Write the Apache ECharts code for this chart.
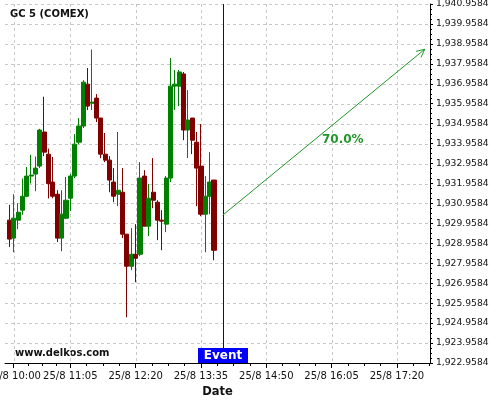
<!DOCTYPE html>
<html><head><meta charset="utf-8">
<script src="https://cdn.jsdelivr.net/npm/echarts@6/dist/echarts.min.js"></script>
<style>html,body{margin:0;padding:0;background:#fff}#c{width:500px;height:400px}</style>
</head><body><div id="c"></div>
<script>
// ---- data ----
const times = ["09:55","10:00","10:05","10:10","10:15","10:20","10:25","10:30","10:35","10:40","10:45","10:50","10:55",
"11:00","11:05","11:10","11:15","11:20","11:25","11:30","11:35","11:40","11:45","11:50","11:55",
"12:00","12:05","12:10","12:15","12:20","12:25","12:30","12:35","12:40","12:45","12:50","12:55",
"13:00","13:05","13:10","13:15","13:20","13:25","13:30","13:35","13:40","13:45","13:50"];
const opens = [1930.12,1929.22,1930.12,1930.62,1931.32,1932.33,1932.43,1932.83,1934.54,1933.43,1932.03,1931.42,1929.22,1930.22,1931.22,1932.33,1934.03,1934.84,1936.94,1935.98,1936.24,1935.24,1933.43,1933.13,1932.03,1931.42,1931.52,1929.42,1927.81,1928.41,1928.41,1932.33,1929.82,1931.52,1931.02,1930.12,1929.92,1932.23,1936.84,1936.84,1937.45,1934.64,1935.24,1934.03,1932.83,1930.42,1931.32,1932.13];
const closes = [1929.17,1930.22,1930.52,1931.32,1932.33,1932.38,1932.73,1934.64,1933.53,1931.96,1931.32,1929.22,1930.42,1931.12,1932.33,1933.93,1934.84,1937.04,1935.84,1936.04,1935.24,1933.43,1933.13,1932.13,1931.32,1931.62,1929.42,1927.81,1928.41,1928.21,1932.23,1929.82,1931.22,1931.12,1930.12,1930.07,1932.23,1936.84,1936.94,1937.55,1934.64,1935.14,1934.13,1932.73,1930.42,1931.32,1932.03,1928.61];
const lows = [1928.78,1928.51,1929.67,1930.39,1931.27,1931.96,1931.57,1932.73,1933.33,1931.21,1931.22,1929.02,1928.56,1930.17,1930.59,1932.23,1933.93,1934.74,1935.64,1935.64,1935.04,1933.23,1933.03,1931.52,1931.02,1930.82,1929.22,1925.25,1927.61,1927.01,1928.31,1929.82,1929.32,1930.72,1929.12,1928.61,1929.52,1932.03,1935.64,1935.84,1934.13,1933.23,1933.43,1930.82,1930.32,1928.51,1930.42,1928.11];
const highs = [1930.89,1931.42,1930.97,1932.21,1932.79,1933.40,1933.31,1934.70,1936.31,1933.71,1933.29,1931.62,1931.62,1932.29,1932.43,1934.44,1935.24,1937.14,1937.75,1938.68,1936.44,1935.24,1934.49,1933.33,1932.73,1934.54,1932.73,1929.42,1929.72,1929.92,1933.03,1932.63,1931.93,1933.23,1931.12,1930.62,1932.33,1938.25,1937.65,1937.65,1937.55,1936.64,1935.24,1934.54,1934.94,1932.33,1933.53,1932.13];

const xTickTimes = ["10:00","11:05","12:20","13:35","14:50","16:05","17:20"];
const xTickLabels = ["25/8 10:00","25/8 11:05","25/8 12:20","25/8 13:35","25/8 14:50","25/8 16:05","25/8 17:20"];
const yTicks = [1922.9584,1923.9584,1924.9584,1925.9584,1926.9584,1927.9584,1928.9584,1929.9584,1930.9584,
1931.9584,1932.9584,1933.9584,1934.9584,1935.9584,1936.9584,1937.9584,1938.9584,1939.9584,1940.9584];
const axisStart = "09:50", axisEnd = "17:58";

const eventTime = "14:00";
const forecastStart = ["14:00", 1930.37];
const forecastEnd = ["17:52", 1938.69];
const forecastText = "70.0%";
const titleText = "GC 5 (COMEX)";
const watermark = "www.delkos.com";

// ---- helpers ----
const toMin = s => { const [h, m] = s.split(':').map(Number); return h * 60 + m; };
const xMin = toMin(axisStart), xMax = toMin(axisEnd);
const majorX = xTickTimes.map(toMin);
const labelByMin = {}; majorX.forEach((m, i) => labelByMin[m] = xTickLabels[i]);
const minorX = [];
for (let i = 0; i < majorX.length; i++) {
  const a = majorX[i];
  const step = (i + 1 < majorX.length ? majorX[i + 1] - a : majorX[i] - majorX[i - 1]) / 4;
  for (let k = 1; k < 4 && a + k * step <= xMax; k++) minorX.push(a + k * step);
  if (i + 1 === majorX.length) for (let k = 4; a + k * step <= xMax; k++) minorX.push(a + k * step);
}
const minorY = [];
for (let i = 0; i + 1 < yTicks.length; i++) for (let k = 1; k < 4; k++) minorY.push(yTicks[i] + k * 0.25);
const fmtY = v => { const s = Number(v).toFixed(4); const [a, b] = s.split('.'); return a.replace(/\B(?=(\d{3})+(?!\d))/g, ',') + '.' + b; };

const candleData = times.map((t, i) => [toMin(t), opens[i], closes[i], lows[i], highs[i]]);

const GREEN = '#008000', RED = '#800000', FC = '#22962a', GRIDC = '#c8c8c8';
const FONT = 'DejaVu Sans';

const chart = echarts.init(document.getElementById('c'), null, { renderer: 'canvas' });
chart.setOption({
  animation: false,
  backgroundColor: '#fff',
  textStyle: { fontFamily: FONT },
  title: { text: titleText, left: 10, top: 9, padding: 0,
    textStyle: { fontSize: 10, fontWeight: 'bold', color: '#111', fontFamily: FONT } },
  graphic: [{ type: 'text', left: 15, top: 348, style: { text: watermark, font: 'bold 10px "DejaVu Sans"', fill: '#111' } }],
  grid: { left: 5, right: 70, top: 4, bottom: 37, containLabel: false, outerBoundsMode: 'none' },
  xAxis: [{
    type: 'value', position: 'bottom', min: xMin, max: xMax,
    name: 'Date', nameLocation: 'middle', nameGap: 21,
    nameTextStyle: { fontSize: 11.5, fontWeight: 'bold', color: '#111' },
    axisLine: { show: true, lineStyle: { color: '#000', width: 1 } },
    axisTick: { show: true, length: 5, customValues: majorX, lineStyle: { color: '#000' } },
    axisLabel: { customValues: majorX, fontSize: 10, color: '#111', margin: 8, formatter: v => labelByMin[Math.round(v)] || '' },
    splitLine: { show: false }
  }, {
    type: 'value', position: 'bottom', min: xMin, max: xMax,
    axisLine: { show: false },
    axisTick: { show: true, length: 3, customValues: minorX, lineStyle: { color: '#000' } },
    axisLabel: { show: false }, splitLine: { show: false }
  }],
  yAxis: [{
    type: 'value', position: 'right', min: yTicks[0], max: yTicks[yTicks.length - 1], scale: true,
    axisLine: { show: true, lineStyle: { color: '#000', width: 1 } },
    axisTick: { show: true, length: 3, customValues: yTicks, lineStyle: { color: '#000' } },
    axisLabel: { customValues: yTicks, fontSize: 9.2, color: '#111', margin: 6, formatter: fmtY },
    splitLine: { show: false }
  }, {
    type: 'value', position: 'right', min: yTicks[0], max: yTicks[yTicks.length - 1], scale: true,
    axisLine: { show: false },
    axisTick: { show: true, length: 2, customValues: minorY, lineStyle: { color: '#000' } },
    axisLabel: { show: false }, splitLine: { show: false }
  }],
  series: [{
    type: 'custom', name: 'gridlines', xAxisIndex: 0, yAxisIndex: 0, z: 0, silent: true,
    data: [[xMin, yTicks[0]]], encode: { x: 0, y: 1 },
    renderItem(params, api) {
      const cs = params.coordSys;
      const children = [];
      const style = { stroke: GRIDC, lineWidth: 1, lineDash: [3, 3] };
      majorX.forEach(v => {
        const x = Math.round(api.coord([v, yTicks[0]])[0]) + 0.5;
        children.push({ type: 'line', shape: { x1: x, y1: cs.y, x2: x, y2: cs.y + cs.height }, style });
      });
      yTicks.forEach(v => {
        const y = Math.round(api.coord([xMin, v])[1]) + 0.5;
        children.push({ type: 'line', shape: { x1: cs.x, y1: y, x2: cs.x + cs.width, y2: y }, style });
      });
      return { type: 'group', children };
    }
  }, {
    type: 'candlestick', name: 'GC', xAxisIndex: 0, yAxisIndex: 0, z: 2,
    data: candleData, encode: { x: 0, y: [1, 2, 3, 4] },
    barWidth: 4.6,
    itemStyle: { color: GREEN, color0: RED, borderColor: GREEN, borderColor0: RED, borderWidth: 1 }
  }, {
    type: 'custom', name: 'event', xAxisIndex: 0, yAxisIndex: 0, z: 3,
    data: [[toMin(eventTime), yTicks[0]]], encode: { x: 0, y: 1 },
    renderItem(params, api) {
      const cs = params.coordSys;
      const x = Math.round(api.coord([api.value(0), api.value(1)])[0]) + 0.5;
      const top = cs.y, bottom = cs.y + cs.height;
      return { type: 'group', children: [
        { type: 'line', shape: { x1: x, y1: top, x2: x, y2: bottom - 15 }, style: { stroke: '#0000cc', lineWidth: 1 } },
        { type: 'rect', shape: { x: x - 25.5, y: bottom - 15, width: 50, height: 15 }, style: { fill: '#0000ff' } },
        { type: 'text', x: x - 0.5, y: bottom - 7, style: { text: 'Event', fill: '#fff', font: 'bold 12px "DejaVu Sans"', align: 'center', verticalAlign: 'middle' } }
      ] };
    }
  }, {
    type: 'custom', name: 'forecast', xAxisIndex: 0, yAxisIndex: 0, z: 3,
    data: [[toMin(forecastStart[0]), forecastStart[1], toMin(forecastEnd[0]), forecastEnd[1]]],
    encode: { x: [0, 2], y: [1, 3] },
    renderItem(params, api) {
      const p0 = api.coord([api.value(0), api.value(1)]);
      const p1 = api.coord([api.value(2), api.value(3)]);
      const ang = Math.atan2(p1[1] - p0[1], p1[0] - p0[0]);
      const L = 9, a = Math.PI / 7;
      const h1 = [p1[0] - L * Math.cos(ang - a), p1[1] - L * Math.sin(ang - a)];
      const h2 = [p1[0] - L * Math.cos(ang + a), p1[1] - L * Math.sin(ang + a)];
      return { type: 'group', children: [
        { type: 'line', shape: { x1: p0[0], y1: p0[1], x2: p1[0], y2: p1[1] }, style: { stroke: FC, lineWidth: 1 } },
        { type: 'polyline', shape: { points: [h1, p1, h2] }, style: { stroke: FC, fill: null, lineWidth: 1 } },
        { type: 'text', x: (p0[0] + p1[0]) / 2 + 19, y: (p0[1] + p1[1]) / 2 + 8,
          style: { text: forecastText, fill: FC, font: 'bold 12px "DejaVu Sans"', align: 'center', verticalAlign: 'middle' } }
      ] };
    }
  }]
});
</script>
</body></html>
